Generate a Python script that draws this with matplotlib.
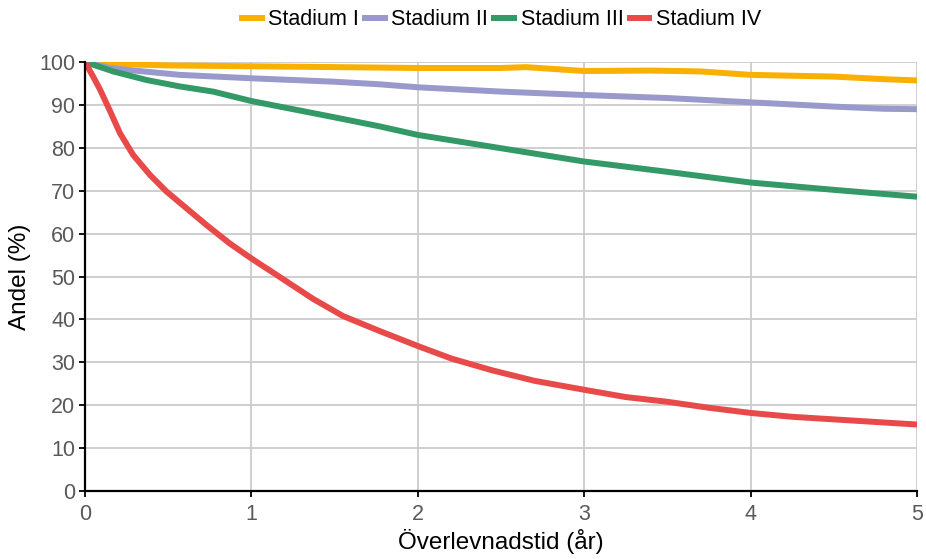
import matplotlib.pyplot as plt

plt.rcParams['font.family'] = ['Liberation Sans', 'DejaVu Sans']

# Survival curves
x_st1 = [0, 0.2, 0.5, 1.0, 1.77, 2.0, 2.5, 2.65, 3.0, 3.4, 3.7, 4.0, 4.5, 4.8, 5.0]
y_st1 = [100, 99.5, 99.2, 99.0, 98.7, 98.6, 98.6, 98.8, 97.9, 98.0, 97.8, 97.0, 96.6, 96.0, 95.7]

x_st2 = [0, 0.15, 0.27, 0.57, 1.0, 1.5, 1.77, 2.0, 2.5, 3.0, 3.5, 3.7, 4.0, 4.5, 4.8, 5.0]
y_st2 = [100, 98.6, 98.1, 97.0, 96.2, 95.4, 94.8, 94.1, 93.1, 92.3, 91.6, 91.2, 90.6, 89.6, 89.1, 89.0]

x_st3 = [0, 0.17, 0.37, 0.57, 0.77, 1.0, 1.25, 1.5, 1.77, 2.0, 2.5, 3.0, 3.5, 4.0, 4.5, 5.0]
y_st3 = [100, 97.8, 95.8, 94.3, 93.1, 90.9, 89.0, 87.1, 85.0, 83.0, 79.9, 76.8, 74.4, 71.9, 70.2, 68.6]

x_st4 = [0, 0.05, 0.09, 0.15, 0.21, 0.29, 0.39, 0.49, 0.61, 0.73, 0.87, 1.0, 1.17, 1.37, 1.55, 1.77,
         2.0, 2.2, 2.45, 2.7, 3.0, 3.25, 3.5, 3.75, 4.0, 4.25, 4.5, 4.75, 5.0]
y_st4 = [100, 96.5, 93.6, 88.6, 83.4, 78.3, 73.7, 69.8, 65.9, 62.0, 57.7, 54.2, 49.9, 44.8, 40.8, 37.3,
         33.8, 30.9, 28.1, 25.7, 23.6, 21.9, 20.8, 19.4, 18.2, 17.3, 16.7, 16.1, 15.5]

labels = ['Stadium I', 'Stadium II', 'Stadium III', 'Stadium IV']
colors = ['#F9B000', '#9999CC', '#339966', '#E84A4A']

fig = plt.figure(figsize=(9.26, 5.59), dpi=100)
ax = fig.add_axes([0.0918, 0.1216, 0.8985, 0.7675])

series = [(x_st1, y_st1), (x_st2, y_st2), (x_st3, y_st3), (x_st4, y_st4)]
for (xs, ys), lab, col in zip(series, labels, colors):
    ax.plot(xs, ys, color=col, lw=4.3, label=lab, solid_joinstyle='round',
            solid_capstyle='butt', zorder=3)

ax.set_xlim(0, 5)
ax.set_ylim(0, 100)
ax.set_xticks(range(0, 6))
ax.set_yticks(range(0, 101, 10))
ax.grid(True, color='#CCCCCC', lw=1.3)
ax.set_axisbelow(True)

for s in ['top', 'right']:
    ax.spines[s].set_visible(False)
for s in ['left', 'bottom']:
    ax.spines[s].set_linewidth(1.6)
    ax.spines[s].set_color('black')
    ax.spines[s].set_zorder(4)

ax.tick_params(axis='both', length=4, width=1.3, color='black',
               labelsize=15.5, labelcolor='#595959', pad=3)
ax.tick_params(axis='x', pad=5)

ax.set_xlabel('Överlevnadstid (år)', fontsize=17.5, labelpad=3)
ax.set_ylabel('Andel (%)', fontsize=17.5, labelpad=6)

fig.legend(loc='center', bbox_to_anchor=(0.54, 0.965), ncol=4, frameon=False,
           fontsize=15.5, handlelength=1.2, handletextpad=0.15, columnspacing=0.15)

fig.savefig('out.png', dpi=100)
